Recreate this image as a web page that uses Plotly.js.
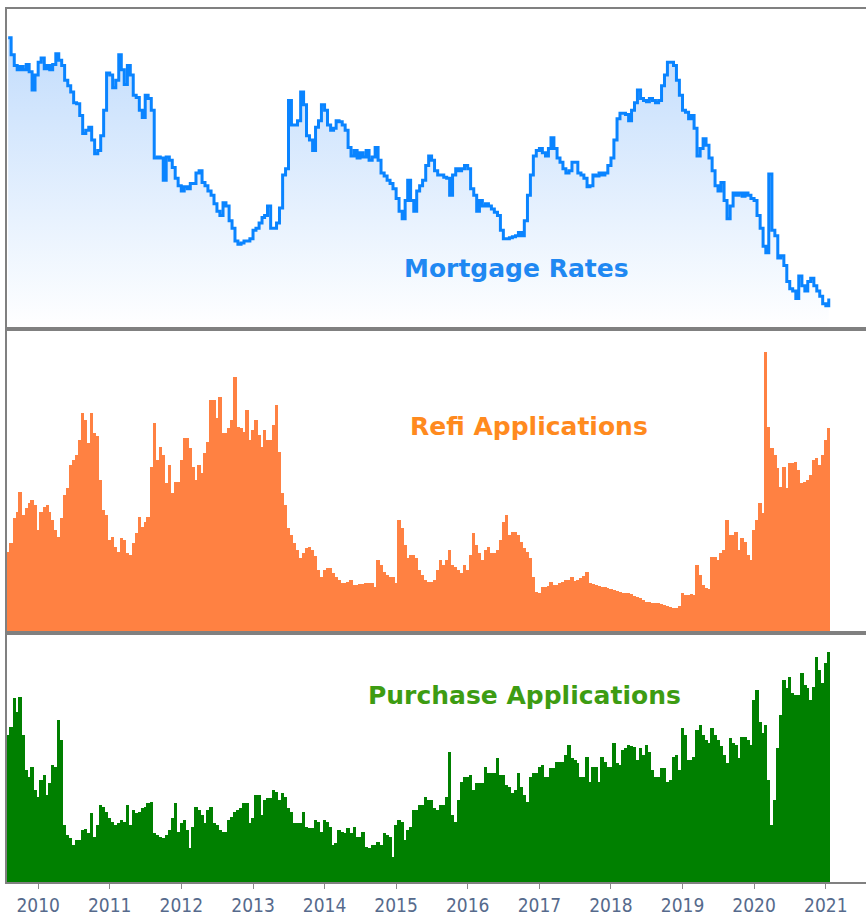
<!DOCTYPE html>
<html><head><meta charset="utf-8">
<script src="https://cdn.plot.ly/plotly-3.0.1.min.js"></script>
<style>html,body{margin:0;padding:0;background:#fff}#chart{width:866px;height:918px}</style>
</head><body><div id="chart"></div>
<script>
// Semi-monthly samples (1st and 16th of each month), first sample 2009-08-01
const startYear = 2009;
const startMonth = 8;

// 30-yr mortgage rate, %
const mortgageRates = [
5.38,5.22,5.12,5.08,5.11,5.08,5.13,5.06,4.89,5.03,
5.15,5.19,5.09,5.12,5.08,5.13,5.23,5.17,5.12,4.98,
4.93,4.87,4.77,4.76,4.65,4.48,4.51,4.54,4.42,4.29,
4.32,4.46,4.70,5.05,5.03,4.91,4.98,5.22,5.08,4.94,
5.12,5.03,4.84,4.82,4.70,4.63,4.84,4.81,4.70,4.25,
4.26,4.25,4.04,4.26,4.23,4.16,4.06,3.99,3.94,3.98,
3.96,4.01,4.01,4.11,4.13,4.02,3.99,3.94,3.90,3.82,
3.75,3.71,3.83,3.80,3.66,3.59,3.47,3.44,3.45,3.47,
3.47,3.49,3.57,3.59,3.64,3.69,3.71,3.80,3.59,3.59,
3.64,3.78,4.09,4.15,4.79,4.56,4.56,4.60,4.87,4.75,
4.46,4.42,4.32,4.54,4.60,4.75,4.70,4.56,4.51,4.53,
4.60,4.59,4.56,4.51,4.35,4.27,4.32,4.25,4.30,4.26,
4.32,4.23,4.26,4.35,4.23,4.11,4.08,4.04,4.01,3.96,
3.87,3.75,3.68,3.85,4.04,3.85,3.75,3.94,3.99,4.04,
4.18,4.27,4.23,4.13,4.09,4.09,4.07,4.06,3.90,4.09,
4.15,4.13,4.15,4.18,4.15,3.96,3.90,3.75,3.85,3.80,
3.82,3.80,3.77,3.74,3.71,3.57,3.49,3.49,3.50,3.51,
3.52,3.55,3.52,3.66,3.90,4.09,4.27,4.32,4.34,4.30,
4.27,4.34,4.44,4.34,4.25,4.21,4.15,4.11,4.13,4.21,
4.21,4.11,4.09,4.06,3.98,3.99,4.09,4.08,4.11,4.09,
4.11,4.18,4.25,4.42,4.62,4.67,4.67,4.66,4.60,4.70,
4.77,4.89,4.81,4.79,4.78,4.81,4.79,4.77,4.79,4.93,
5.03,5.15,5.15,5.12,4.98,4.84,4.70,4.68,4.62,4.65,
4.53,4.27,4.34,4.43,4.37,4.25,4.13,3.99,3.94,4.02,
3.85,3.68,3.80,3.92,3.90,3.92,3.89,3.92,3.90,3.87,
3.85,3.71,3.59,3.42,3.36,4.10,3.57,3.52,3.31,3.33,
3.24,3.09,3.02,3.00,2.93,3.14,3.05,3.00,3.09,3.12,
3.05,3.00,2.95,2.88,2.86,2.93
];

// Refinance applications index
const refiIndex = [
1620,1800,2300,2420,2820,2360,2500,2600,2660,2560,
2060,2420,2520,2560,2420,2260,2060,1920,2300,2760,
2900,3360,3460,3560,3860,4400,4260,3800,4400,4000,
3940,3060,2460,2360,1860,1920,1720,1620,1900,1860,
1600,1560,1800,2000,2320,2120,2220,2320,3320,4200,
3460,3720,3560,3000,3360,2800,3020,3020,3460,3900,
3900,3700,3320,3060,3360,3200,3600,3820,4660,4660,
4300,4720,4000,4000,4100,4260,5120,4120,4100,4020,
4460,3860,4060,4260,3960,3720,4060,3860,3860,4160,
4560,3620,2800,2560,2100,1960,1800,1660,1500,1600,
1700,1720,1660,1540,1260,1120,1260,1300,1300,1200,
1120,1060,1000,1000,1020,1060,960,960,980,980,
1000,1000,1000,920,1460,1360,1220,1160,1120,1120,
1000,2260,2100,1760,1500,1560,1560,1500,1260,1160,
1060,1020,1020,1060,1260,1460,1360,1460,1660,1360,
1320,1260,1200,1360,1260,1560,2000,1760,1600,1460,
1660,1720,1600,1600,1660,1860,2220,2360,1960,2020,
2020,1960,1820,1700,1620,1500,1120,820,800,920,
920,940,1020,960,960,1000,1020,1060,1060,1120,
1040,1060,1100,1140,1220,1000,980,960,940,920,
920,900,880,860,840,820,800,800,800,780,
740,720,700,660,620,620,600,600,600,580,
560,540,520,500,500,540,800,760,760,780,
760,1360,1160,960,900,880,1520,1520,1460,1600,
1660,2260,1960,1960,2020,1660,1900,1820,1560,1460,
2060,2260,2600,2400,5620,4120,3700,3560,3300,2920,
3320,2900,3400,3400,3420,3260,3000,3020,3060,3160,
3460,3500,3360,3560,3860,4100
];

// Purchase applications index
const purchaseIndex = [
247,255,284,270,285,247,212,205,215,192,
185,202,207,187,199,217,215,262,242,157,
147,144,137,142,142,152,153,149,169,145,
157,177,175,170,164,160,157,159,162,160,
177,157,172,169,170,174,175,179,180,149,
147,145,144,147,152,164,179,150,159,162,
152,134,155,175,172,167,159,172,175,159,
157,152,150,150,162,165,170,172,174,179,
179,159,164,187,187,167,182,184,184,192,
190,182,189,185,174,170,159,159,159,170,
155,154,154,162,160,150,162,160,155,137,
139,152,150,149,154,149,155,145,145,150,
135,134,137,137,140,137,149,147,145,125,
157,162,160,142,152,155,172,172,177,177,
185,182,182,174,172,177,177,185,230,167,
160,182,200,205,205,207,192,199,199,199,
215,209,209,209,224,207,207,197,195,189,
192,209,195,187,180,205,209,209,215,217,
205,205,214,214,220,220,220,227,237,224,
222,219,205,205,225,200,215,215,200,225,
220,215,215,239,219,217,232,234,237,236,
235,222,234,227,237,230,212,205,205,214,
214,200,202,225,227,212,254,247,222,222,
225,252,257,247,242,239,254,247,242,236,
227,219,244,239,237,224,245,245,242,237,
282,292,260,249,257,202,157,182,234,267,
302,294,305,289,287,287,309,297,294,282,
295,325,312,299,319,329
];

const yearTicks = ['2010','2011','2012','2013','2014','2015','2016','2017','2018','2019','2020','2021'];

function pad(n){return (n<10?'0':'')+n;}
const dates = mortgageRates.map((_, i) => {
  const m = startMonth - 1 + Math.floor(i / 2);
  const y = startYear + Math.floor(m / 12);
  return y + '-' + pad(m % 12 + 1) + '-' + (i % 2 ? '16' : '01');
});

const rateRange = [2.642, 5.651];
const refiRange = [0, 6080];
const purchRange = [100, 348];
const frame = '#808080';
const barWidth = 1.46e9;

const traces = [
  {
    type: 'scatter', mode: 'lines', x: dates, y: mortgageRates,
    xaxis: 'x', yaxis: 'y',
    line: {color: '#0a84ff', width: 3, shape: 'hv'},
    fill: 'tozeroy',
    fillgradient: {type: 'vertical', start: rateRange[0], stop: rateRange[1],
      colorscale: [[0, '#ffffff'], [1, '#bcd9fc']]},
    hoverinfo: 'skip'
  },
  {
    type: 'bar', x: dates, y: refiIndex, xaxis: 'x2', yaxis: 'y2',
    width: barWidth, marker: {color: '#ff8142', line: {width: 0}}, hoverinfo: 'skip'
  },
  {
    type: 'bar', x: dates, y: purchaseIndex, xaxis: 'x3', yaxis: 'y3',
    width: barWidth, marker: {color: '#008000', line: {width: 0}}, hoverinfo: 'skip'
  }
];

const xBase = {
  type: 'date', range: ['2009-07-26', '2021-07-25'],
  showgrid: false, zeroline: false, showline: true, mirror: true,
  linecolor: frame, linewidth: 2, ticks: '', showticklabels: false
};
const yBase = {
  showgrid: false, zeroline: false, showline: true, mirror: false,
  linecolor: frame, linewidth: 2, ticks: '', showticklabels: false, fixedrange: true
};

const layout = {
  width: 866, height: 918,
  margin: {l: 7, r: 0, t: 9, b: 36},
  paper_bgcolor: '#ffffff', plot_bgcolor: '#ffffff',
  showlegend: false, bargap: 0,
  xaxis: Object.assign({}, xBase, {anchor: 'y'}),
  xaxis2: Object.assign({}, xBase, {anchor: 'y2', matches: 'x'}),
  xaxis3: Object.assign({}, xBase, {
    anchor: 'y3', matches: 'x',
    ticks: 'outside', ticklen: 5, tickwidth: 1, tickcolor: '#8a8a8a',
    showticklabels: true,
    tickvals: yearTicks.map(y => y + '-01-01'), ticktext: yearTicks,
    tickfont: {family: 'DejaVu Sans Condensed, DejaVu Sans', size: 19, color: '#566a8c'}
  }),
  yaxis: Object.assign({}, yBase, {domain: [0.6334, 1], range: rateRange}),
  yaxis2: Object.assign({}, yBase, {domain: [0.2847, 0.6334], range: refiRange}),
  yaxis3: Object.assign({}, yBase, {domain: [0, 0.2847], range: purchRange}),
  annotations: [
    {text: 'Mortgage Rates', xref: 'paper', yref: 'paper', x: 0.5926, y: 0.7033,
     showarrow: false, xanchor: 'center', yanchor: 'middle',
     font: {family: 'DejaVu Sans', size: 25, color: '#1f88f2', weight: 700}},
    {text: 'Refi Applications', xref: 'paper', yref: 'paper', x: 0.6077, y: 0.5212,
     showarrow: false, xanchor: 'center', yanchor: 'middle',
     font: {family: 'DejaVu Sans', size: 25, color: '#ff8a1e', weight: 700}},
    {text: 'Purchase Applications', xref: 'paper', yref: 'paper', x: 0.602, y: 0.2142,
     showarrow: false, xanchor: 'center', yanchor: 'middle',
     font: {family: 'DejaVu Sans', size: 25, color: '#3d9c12', weight: 700}}
  ]
};

Plotly.newPlot('chart', traces, layout, {staticPlot: true, displayModeBar: false});
</script>
</body></html>
